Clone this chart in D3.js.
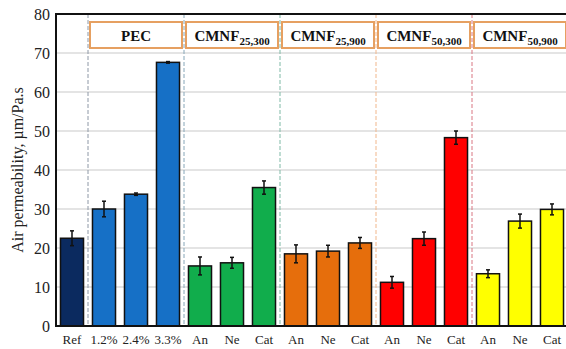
<!DOCTYPE html>
<html>
<head>
<meta charset="utf-8">
<script src="https://cdn.jsdelivr.net/npm/d3@7/dist/d3.min.js"></script>
<style>
  html, body { margin: 0; padding: 0; background: #fff; }
  svg { display: block; }
  text { font-family: "Liberation Serif", "Times New Roman", serif; }
</style>
</head>
<body>
<svg id="chart" width="566" height="349"></svg>
<script>
// Sample labels along the x axis
const categories = ["Ref", "1.2%", "2.4%", "3.3%",
  "An", "Ne", "Cat", "An", "Ne", "Cat",
  "An", "Ne", "Cat", "An", "Ne", "Cat"];
// Mean air permeability (µm/Pa.s) and standard deviation per sample
const values = [22.5, 30.0, 33.8, 67.6,
  15.4, 16.2, 35.5, 18.5, 19.2, 21.3,
  11.2, 22.4, 48.3, 13.4, 26.9, 29.9];
const errors = [1.9, 2.0, 0.3, 0.2,
  2.3, 1.4, 1.7, 2.3, 1.5, 1.4,
  1.5, 1.7, 1.7, 1.0, 1.8, 1.4];
// Sample groups: header text (main + subscript) and number of bars
const groupMain = ["", "PEC", "CMNF", "CMNF", "CMNF", "CMNF"];
const groupSub = ["", "", "25,300", "25,900", "50,300", "50,900"];
const groupSizes = [1, 3, 3, 3, 3, 3];
const yTicks = [0, 10, 20, 30, 40, 50, 60, 70, 80];

// Styling per group
const barColors = ["#0b2a5f", "#1670c6", "#11ad4c", "#e66e0c", "#ff0000", "#ffff00"];
const sepColors = ["#8e98a6", "#86a6b8", "#7fb9a6", "#f1b78c", "#d97682"];

const svg = d3.select("#chart");
const margin = { left: 56, right: 568, top: 14, bottom: 326 };

const x = d3.scaleBand()
  .domain(d3.range(categories.length))
  .range([margin.left, margin.right])
  .paddingInner(0.28)
  .paddingOuter(0.14);

const y = d3.scaleLinear().domain([0, 80]).range([margin.bottom, margin.top]);

// group index of every bar
const groupIndex = [];
groupSizes.forEach((n, g) => { for (let i = 0; i < n; i++) groupIndex.push(g); });
const groupStart = [];
groupSizes.reduce((acc, n, g) => { groupStart[g] = acc; return acc + n; }, 0);

// horizontal grid
svg.append("g")
  .selectAll("line")
  .data(yTicks.filter(t => t > 0 && t < 80))
  .join("line")
  .attr("x1", margin.left).attr("x2", margin.right)
  .attr("y1", d => y(d)).attr("y2", d => y(d))
  .attr("stroke", "#c9c9c9").attr("stroke-width", 1);

// dashed group separators
const step = x.step();
const sepX = groupStart.slice(1).map(s => margin.left + s * step);
svg.append("g")
  .selectAll("line")
  .data(sepX)
  .join("line")
  .attr("x1", d => d).attr("x2", d => d)
  .attr("y1", margin.top).attr("y2", margin.bottom)
  .attr("stroke", (d, i) => sepColors[i])
  .attr("stroke-width", 1)
  .attr("stroke-dasharray", "4,2");

// group header boxes
const headers = svg.append("g");
groupSizes.forEach((n, g) => {
  if (!groupMain[g]) return;
  const x0 = margin.left + groupStart[g] * step + 2;
  const x1 = margin.left + (groupStart[g] + n) * step - 2;
  headers.append("rect")
    .attr("x", x0).attr("y", 22)
    .attr("width", x1 - x0).attr("height", 26)
    .attr("fill", "#fff")
    .attr("stroke", "#e6a061").attr("stroke-width", 2);
  const t = headers.append("text")
    .attr("x", (x0 + x1) / 2).attr("y", 41)
    .attr("text-anchor", "middle")
    .attr("font-weight", "bold")
    .attr("font-size", 15)
    .attr("fill", "#111");
  t.append("tspan").text(groupMain[g]);
  if (groupSub[g]) {
    t.append("tspan").attr("font-size", 11).attr("dy", 3.5).text(groupSub[g]);
  }
});

// bars
svg.append("g")
  .selectAll("rect")
  .data(values)
  .join("rect")
  .attr("x", (d, i) => x(i))
  .attr("y", d => y(d))
  .attr("width", x.bandwidth())
  .attr("height", d => y(0) - y(d))
  .attr("fill", (d, i) => barColors[groupIndex[i]])
  .attr("stroke", "#111")
  .attr("stroke-width", 1.5);

// error bars
const eb = svg.append("g").attr("stroke", "#111").attr("stroke-width", 1.5);
values.forEach((v, i) => {
  const cx = x(i) + x.bandwidth() / 2;
  const lo = y(v - errors[i]), hi = y(v + errors[i]);
  eb.append("line").attr("x1", cx).attr("x2", cx).attr("y1", lo).attr("y2", hi);
  eb.append("line").attr("x1", cx - 2).attr("x2", cx + 2).attr("y1", lo).attr("y2", lo);
  eb.append("line").attr("x1", cx - 2).attr("x2", cx + 2).attr("y1", hi).attr("y2", hi);
});

// y axis
const yAxis = svg.append("g")
  .attr("transform", `translate(${margin.left},0)`)
  .call(d3.axisLeft(y).tickValues(yTicks).tickSize(0).tickPadding(6));
yAxis.select(".domain").remove();
yAxis.selectAll("text")
  .attr("font-family", "Liberation Serif, Times New Roman, serif")
  .attr("font-size", 16).attr("fill", "#222");

// x axis labels
const xAxis = svg.append("g")
  .attr("transform", `translate(0,${margin.bottom})`)
  .call(d3.axisBottom(x).tickFormat(i => categories[i]).tickSize(0).tickPadding(9));
xAxis.select(".domain").remove();
xAxis.selectAll("text")
  .attr("font-family", "Liberation Serif, Times New Roman, serif")
  .attr("font-size", 13).attr("fill", "#222");

// plot frame
svg.append("line")
  .attr("x1", margin.left).attr("x2", margin.right)
  .attr("y1", margin.top).attr("y2", margin.top)
  .attr("stroke", "#111").attr("stroke-width", 2);
svg.append("line")
  .attr("x1", margin.left).attr("x2", margin.right)
  .attr("y1", margin.bottom).attr("y2", margin.bottom)
  .attr("stroke", "#111").attr("stroke-width", 2);
svg.append("line")
  .attr("x1", margin.left).attr("x2", margin.left)
  .attr("y1", margin.top - 1).attr("y2", margin.bottom + 1)
  .attr("stroke", "#111").attr("stroke-width", 2);

// y axis title
svg.append("text")
  .attr("transform", `translate(17,${(margin.top + margin.bottom) / 2}) rotate(-90)`)
  .attr("text-anchor", "middle")
  .attr("dy", "0.35em")
  .attr("font-size", 16)
  .attr("fill", "#222")
  .text("Air permeability, µm/Pa.s");
</script>
</body>
</html>
